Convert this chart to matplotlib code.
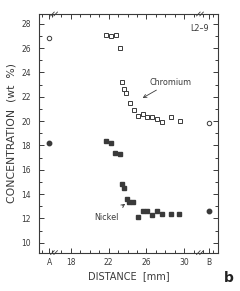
import numpy as np
import matplotlib
matplotlib.use("Agg")
import matplotlib.pyplot as plt
from matplotlib.ticker import MultipleLocator

# end points A and B sit on the distance axis at these positions
pos_a = 15.7
pos_b = 32.6

cr_x = [pos_a, 21.7, 22.2, 22.75, 23.25, 23.45, 23.6, 23.85, 24.25, 24.65,
        25.15, 25.6, 26.1, 26.6, 27.15, 27.65, 28.65, 29.6, pos_b]
cr_y = [26.8, 27.1, 27.0, 27.1, 26.0, 23.2, 22.6, 22.3, 21.45, 20.9,
        20.4, 20.55, 20.35, 20.3, 20.2, 19.95, 20.35, 20.0, 19.85]

ni_x = [pos_a, 21.7, 22.2, 22.7, 23.25, 23.45, 23.6, 23.9, 24.15, 24.6,
        25.15, 25.6, 26.05, 26.55, 27.1, 27.6, 28.55, 29.5, pos_b]
ni_y = [18.2, 18.35, 18.2, 17.4, 17.3, 14.8, 14.5, 13.6, 13.35, 13.35,
        12.1, 12.6, 12.6, 12.3, 12.6, 12.4, 12.35, 12.35, 12.6]

x_ticks = [pos_a, 18, 22, 26, 30, pos_b]
x_labels = ["A", "18", "22", "26", "30", "B"]
y_ticks = [10, 12, 14, 16, 18, 20, 22, 24, 26, 28]

ink = "#3a3a3a"
plt.rcParams["font.family"] = "DejaVu Sans"

fig = plt.figure(figsize=(2.4, 2.91), dpi=100)
ax = fig.add_axes([0.1625, 0.132, 0.746, 0.82])

# chromium: open squares, end points open circles
ax.plot(cr_x[1:-1], cr_y[1:-1], "s", ms=2.8, mfc="white", mec=ink, mew=0.7)
ax.plot([cr_x[0], cr_x[-1]], [cr_y[0], cr_y[-1]], "o", ms=3.2, mfc="white", mec=ink, mew=0.7)
# nickel: filled squares, end points filled circles
ax.plot(ni_x[1:-1], ni_y[1:-1], "s", ms=2.6, color=ink)
ax.plot([ni_x[0], ni_x[-1]], [ni_y[0], ni_y[-1]], "o", ms=3.2, color=ink)

ax.set_xlim(14.63, 33.58)
ax.set_ylim(9.2, 28.8)
ax.set_xticks(x_ticks)
ax.set_xticklabels(x_labels)
ax.set_yticks(y_ticks)
ax.xaxis.set_minor_locator(MultipleLocator(1))
ax.yaxis.set_minor_locator(MultipleLocator(1))
ax.tick_params(which="both", direction="in", top=True, right=True, colors=ink,
               labelsize=5.5, width=0.7)
ax.tick_params(which="major", length=3.5)
ax.tick_params(axis="y", which="major", pad=6)
ax.tick_params(axis="x", which="major", pad=4)
ax.tick_params(which="minor", length=2)
for s in ax.spines.values():
    s.set_color(ink)
    s.set_linewidth(0.8)

# axis break marks
for xb in [0.075, 0.89]:
    for yb in [0.0, 1.0]:
        for dx in [0.0, 0.018]:
            ax.plot([xb + dx - 0.01, xb + dx + 0.01], [yb - 0.008, yb + 0.008],
                    transform=ax.transAxes, color=ink, lw=0.6, clip_on=False)

ax.set_ylabel("CONCENTRATION  (wt  %)", fontsize=7.8, color=ink, labelpad=3)
ax.set_xlabel("DISTANCE  [mm]", fontsize=7, color=ink, labelpad=3)

ax.text(0.95, 0.96, "L2\u20139", transform=ax.transAxes, ha="right", va="top",
        fontsize=5.8, color=ink)
ax.annotate("Chromium", xy=(25.6, 21.9), xytext=(26.3, 23.2), fontsize=5.8,
            color=ink, ha="left", va="center",
            arrowprops=dict(arrowstyle="->", color=ink, lw=0.6, shrinkA=1, shrinkB=0))
ax.annotate("Nickel", xy=(23.75, 13.2), xytext=(21.8, 12.1), fontsize=5.8,
            color=ink, ha="center", va="center",
            arrowprops=dict(arrowstyle="->", color=ink, lw=0.6, shrinkA=5, shrinkB=0))

fig.text(0.953, 0.045, "b", fontsize=10, fontweight="bold", color="#222",
         ha="center", va="center")

fig.savefig("out.png", dpi=100)
